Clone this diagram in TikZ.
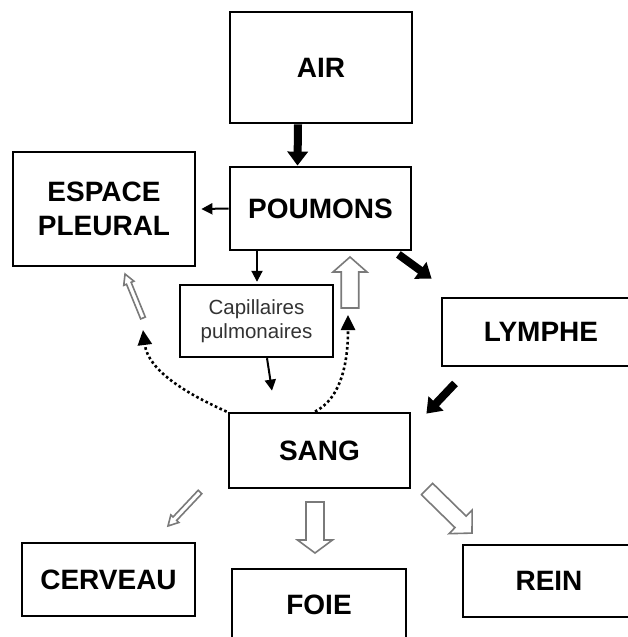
\documentclass[tikz,border=0pt]{standalone}
\usepackage{fontspec}
\setmainfont{Liberation Sans}
\usetikzlibrary{arrows.meta}

\definecolor{hollowgray}{HTML}{7A7A7A}
\definecolor{captext}{HTML}{333333}

\tikzset{
  box/.style={draw, rectangle, line width=2.8pt, inner sep=0pt, align=center,
    font=\bfseries\fontsize{28}{34}\selectfont},
  smallbox/.style={draw, rectangle, line width=2.4pt, inner sep=0pt, align=center,
    text=captext, font=\fontsize{20.5}{24.5}\selectfont},
  thinarrow/.style={line width=2pt, -{Triangle[length=11pt,width=11pt]}},
  thickarrow/.style={line width=8pt, -{Triangle[length=14pt,width=20pt]}},
  dotarrow/.style={line width=2.6pt, dash pattern=on 2.6pt off 2.6pt,
    -{Triangle[length=15pt,width=14pt]}},
  hollowline/.style={draw=hollowgray, fill=white, line width=1.6pt},
  % block arrow along +x: length, shaft width, head width, head length
  pics/hollowarrow/.style n args={4}{code={
    \draw[hollowline] (0,-#2/2) -- ({#1-#4},-#2/2) -- ({#1-#4},-#3/2) -- (#1,0)
      -- ({#1-#4},#3/2) -- ({#1-#4},#2/2) -- (0,#2/2) -- cycle;
  }}
}

\begin{document}
\begin{tikzpicture}[x=1pt, y=-1pt]
  \clip (0,0) rectangle (628,637);
  \fill[white] (0,0) rectangle (628,637);

  % boxes
  \node[box, minimum width=182pt, minimum height=111pt] (air) at (321,67.5) {AIR};
  \node[box, minimum width=181pt, minimum height=83pt] (poumons) at (320.5,208.5) {POUMONS};
  \node[box, minimum width=182pt, minimum height=114pt] (espace) at (104,209) {ESPACE\\PLEURAL};
  \node[smallbox, minimum width=153pt, minimum height=72pt] (cap) at (256.5,321) {Capillaires\\pulmonaires};
  \node[box, minimum width=198pt, minimum height=68pt] (lymphe) at (541,332) {LYMPHE};
  \node[box, minimum width=181pt, minimum height=75pt] (sang) at (319.5,450.5) {SANG};
  \node[box, minimum width=173pt, minimum height=73pt] (cerveau) at (108.5,579.5) {CERVEAU};
  \node[box, minimum width=174pt, minimum height=72pt] (foie) at (319,605) {FOIE};
  \node[box, minimum width=172pt, minimum height=72pt] (rein) at (549,581) {REIN};

  % solid arrows
  \draw[thickarrow] ([xshift=-23pt]air.south) -- ([xshift=-23pt]poumons.north);
  \draw[thinarrow] (poumons.west) -- ([xshift=5pt]espace.east);
  \draw[thinarrow] (poumons.south -| cap.north) ++(0.5,0) coordinate (pc0)
    (pc0) -- ([xshift=0.5pt,yshift=2pt]cap.north);
  \draw[thinarrow] ([xshift=10.5pt]cap.south) -- ([xshift=-47.5pt,yshift=21pt]sang.north);
  \draw[thickarrow] ([xshift=-14pt,yshift=-3pt]poumons.south east) -- ([xshift=-9pt,yshift=18pt]lymphe.north west);
  \draw[thickarrow] ([xshift=-86pt,yshift=-16pt]lymphe.south) -- ([xshift=15pt,yshift=-2pt]sang.north east);

  % dotted returns
  \draw[dotarrow] ([xshift=-1pt]sang.north west)
    .. controls (185,393) and (148,370) .. (143,330);
  \draw[dotarrow] ([xshift=-4.5pt]sang.north)
    .. controls (338,400) and (348,370) .. (348,315);

  % hollow block arrows
  \pic[rotate=112.2] (hpleura) at (143,318) {hollowarrow={47.5}{5}{11}{10}};
  \pic[rotate=90] (hpoumon) at (350,308) {hollowarrow={51}{17.5}{34}{15}};
  \pic[rotate=226.7] (hcerveau) at (200,492) {hollowarrow={46.7}{5}{11}{10}};
  \pic[rotate=-90] (hfoie) at (315,502) {hollowarrow={51}{18}{35}{13}};
  \pic[rotate=-44.4] (hrein) at (427,489) {hollowarrow={63}{16}{33}{16}};
\end{tikzpicture}
\end{document}
